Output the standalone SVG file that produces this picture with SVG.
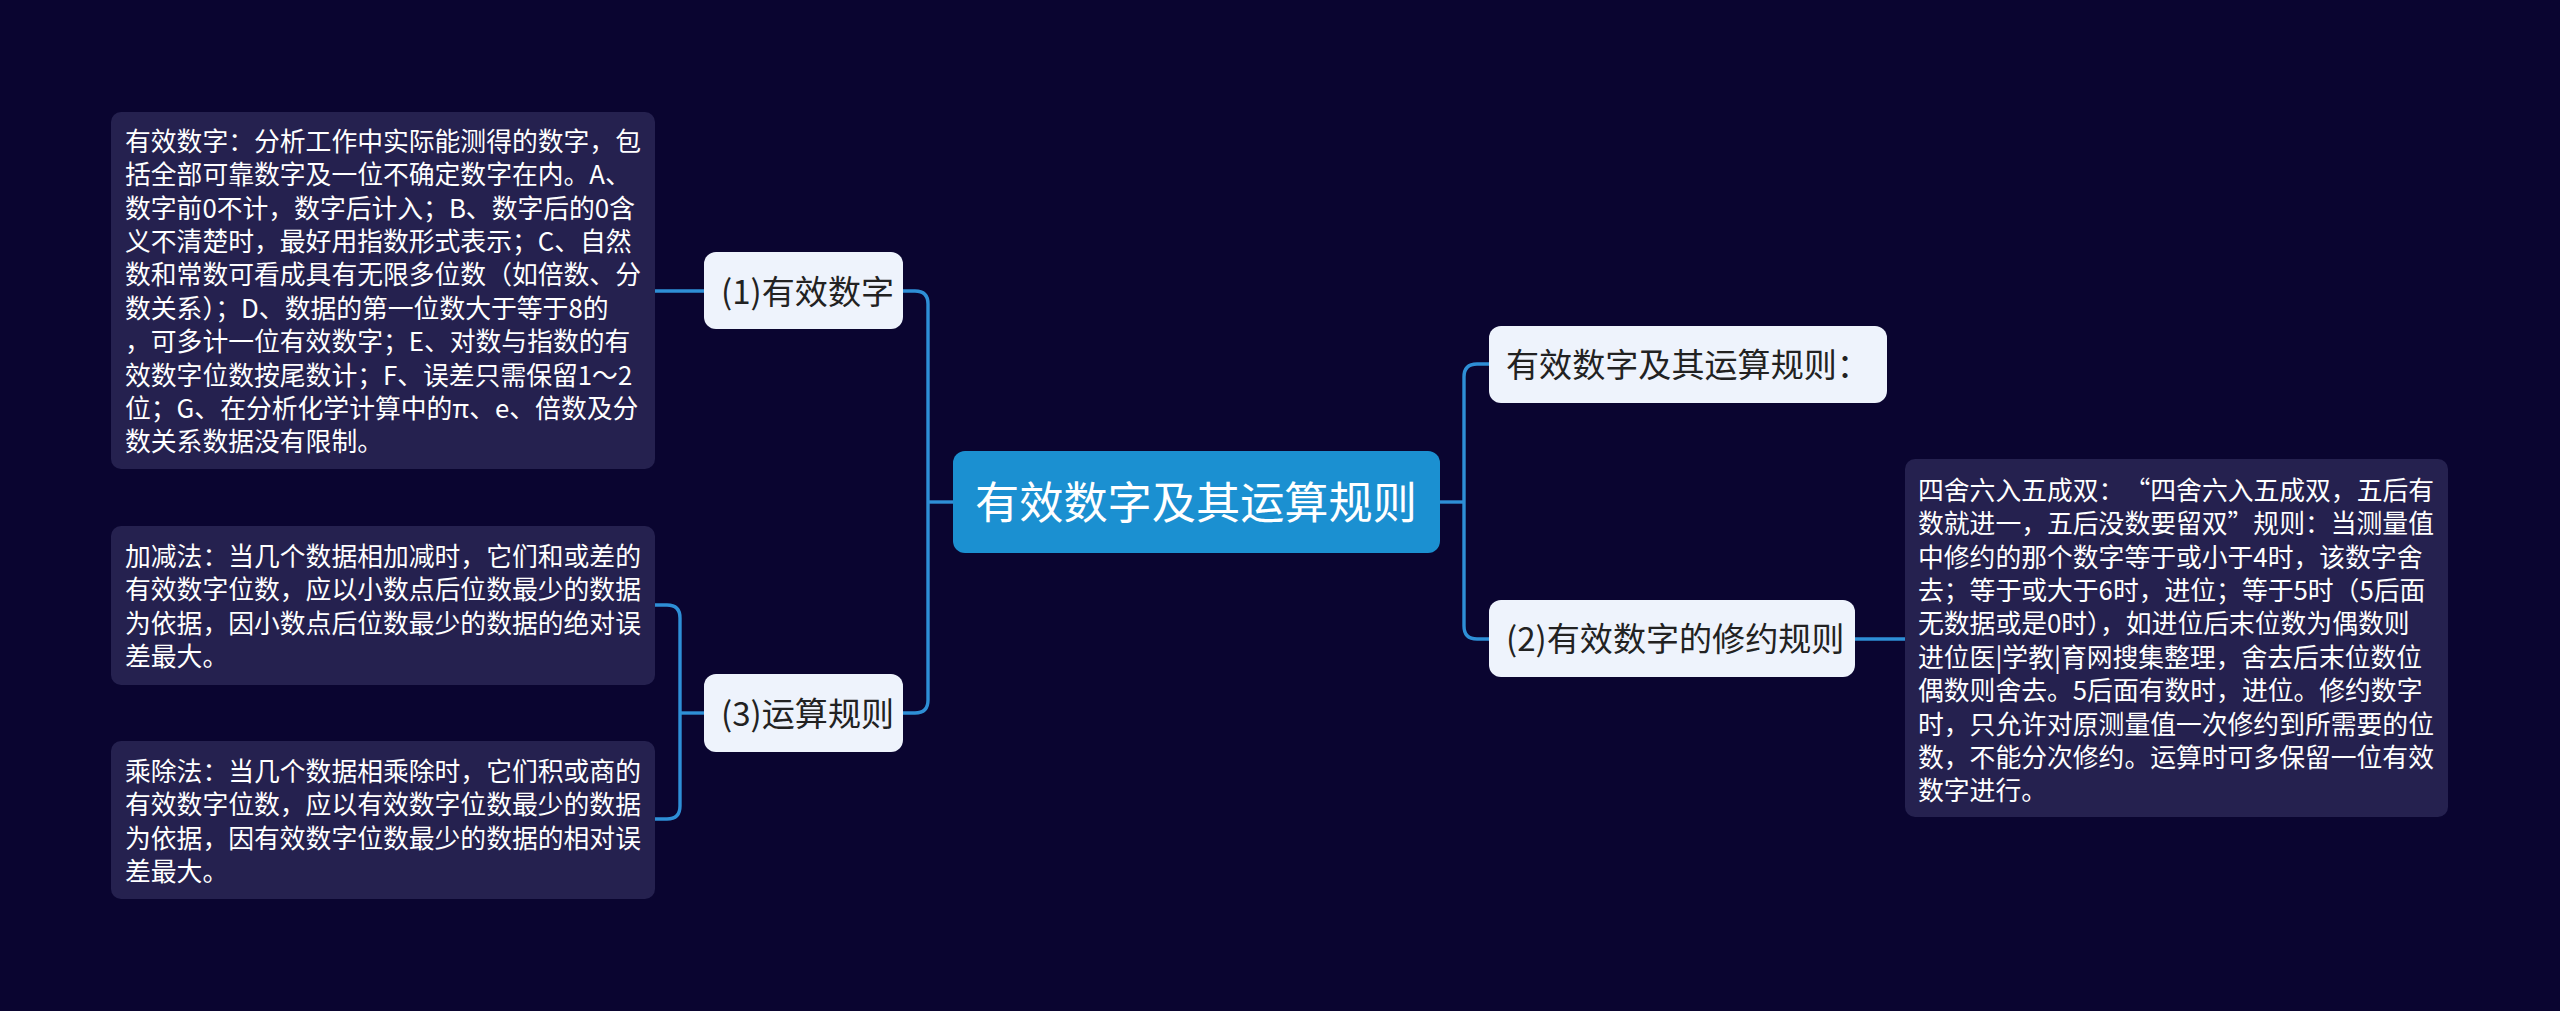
<svg xmlns="http://www.w3.org/2000/svg" width="2560" height="1011" viewBox="0 0 2560 1011">
<style>
.bg{fill:#0a0530}
.leaf rect{fill:#25214f}
.leaf text{fill:#ffffff;font-family:"Noto Sans CJK SC","Noto Sans",sans-serif;font-size:25.8px}
.node rect{fill:#eef3fc}
.node text{fill:#222222;font-family:"Noto Sans CJK SC","Noto Sans",sans-serif;font-size:33.1px}
.root rect{fill:#1b90d1}
.root text{fill:#ffffff;font-family:"Noto Sans CJK SC","Noto Sans",sans-serif;font-size:44.2px}
.conn path{fill:none;stroke:#2e8fd6;stroke-width:3.4}
</style>
<rect class="bg" x="0" y="0" width="2560" height="1011"/>
<g id="connectors" class="conn">
<path d="M903 291 H915 Q928 291 928 304 V700 Q928 713 915 713 H903"/>
<path d="M928 502 H953"/>
<path d="M655 291 H704"/>
<path d="M704 713 H680"/>
<path d="M655 605 H667 Q680 605 680 618 V806 Q680 819 667 819 H655"/>
<path d="M1440 502 H1464"/>
<path d="M1489 364 H1477 Q1464 364 1464 377 V626 Q1464 639 1477 639 H1489"/>
<path d="M1855 639 H1905"/>
</g>
<g id="root" class="root">
<rect x="953" y="451" width="487" height="102" rx="12"/>
<text x="975" y="518.8">有效数字及其运算规则</text>
</g>
<g id="n1" class="node">
<rect x="704" y="252" width="199" height="77" rx="12"/>
<text x="721" y="303.6">(1)有效数字</text>
</g>
<g id="n3" class="node">
<rect x="704" y="674" width="199" height="78" rx="12"/>
<text x="721" y="725.6">(3)运算规则</text>
</g>
<g id="n-title" class="node">
<rect x="1489" y="326" width="398" height="77" rx="12"/>
<text x="1506" y="377">有效数字及其运算规则：</text>
</g>
<g id="n2" class="node">
<rect x="1489" y="600" width="366" height="77" rx="12"/>
<text x="1506" y="651">(2)有效数字的修约规则</text>
</g>
<g id="leaf1" class="leaf">
<rect x="111" y="112" width="544" height="357" rx="10"/>
<text x="125" y="150.8">有效数字：分析工作中实际能测得的数字，包</text>
<text x="125" y="184.2">括全部可靠数字及一位不确定数字在内。A、</text>
<text x="125" y="217.6">数字前0不计，数字后计入；B、数字后的0含</text>
<text x="125" y="251">义不清楚时，最好用指数形式表示；C、自然</text>
<text x="125" y="284.4">数和常数可看成具有无限多位数（如倍数、分</text>
<text x="125" y="317.8">数关系）；D、数据的第一位数大于等于8的</text>
<text x="125" y="351.2">，可多计一位有效数字；E、对数与指数的有</text>
<text x="125" y="384.6">效数字位数按尾数计；F、误差只需保留1～2</text>
<text x="125" y="418">位；G、在分析化学计算中的π、e、倍数及分</text>
<text x="125" y="451.4">数关系数据没有限制。</text>
</g>
<g id="leaf2" class="leaf">
<rect x="111" y="526" width="544" height="159" rx="10"/>
<text x="125" y="565.8">加减法：当几个数据相加减时，它们和或差的</text>
<text x="125" y="599.2">有效数字位数，应以小数点后位数最少的数据</text>
<text x="125" y="632.6">为依据，因小数点后位数最少的数据的绝对误</text>
<text x="125" y="666">差最大。</text>
</g>
<g id="leaf3" class="leaf">
<rect x="111" y="741" width="544" height="158" rx="10"/>
<text x="125" y="780.8">乘除法：当几个数据相乘除时，它们积或商的</text>
<text x="125" y="814.2">有效数字位数，应以有效数字位数最少的数据</text>
<text x="125" y="847.6">为依据，因有效数字位数最少的数据的相对误</text>
<text x="125" y="881">差最大。</text>
</g>
<g id="leaf4" class="leaf">
<rect x="1905" y="459" width="543" height="358" rx="10"/>
<text x="1918" y="499.8">四舍六入五成双：<tspan dx="13">“四舍六入五成双，五后有</tspan></text>
<text x="1918" y="533.2">数就进一，五后没数要留双”规则：当测量值</text>
<text x="1918" y="566.6">中修约的那个数字等于或小于4时，该数字舍</text>
<text x="1918" y="600">去；等于或大于6时，进位；等于5时（5后面</text>
<text x="1918" y="633.4">无数据或是0时），如进位后末位数为偶数则</text>
<text x="1918" y="666.8">进位医|学教|育网搜集整理，舍去后末位数位</text>
<text x="1918" y="700.2">偶数则舍去。5后面有数时，进位。修约数字</text>
<text x="1918" y="733.6">时，只允许对原测量值一次修约到所需要的位</text>
<text x="1918" y="767">数，不能分次修约。运算时可多保留一位有效</text>
<text x="1918" y="800.4">数字进行。</text>
</g>
</svg>
